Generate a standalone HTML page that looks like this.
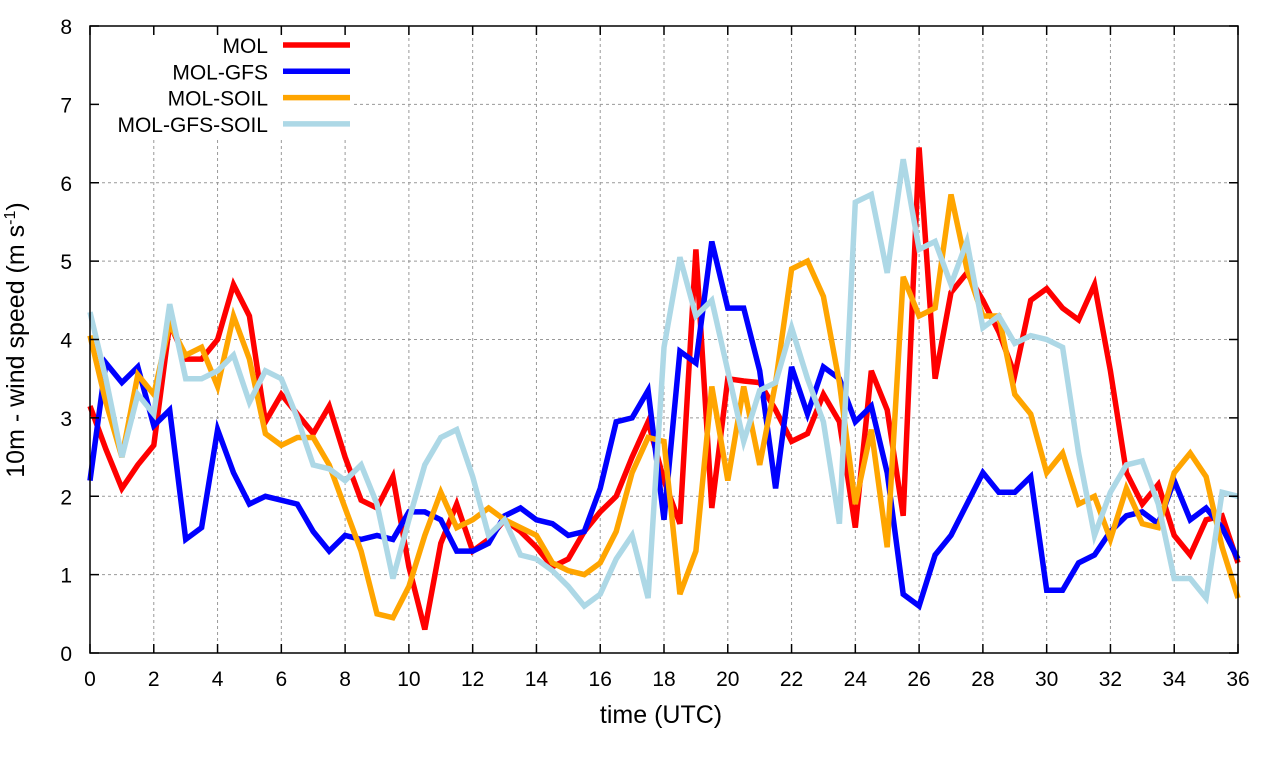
<!DOCTYPE html>
<html><head><meta charset="utf-8"><style>
body{margin:0;background:#fff;}
svg{display:block;font-family:"Liberation Sans",sans-serif;}
</style></head><body>
<svg id="chart" width="1280" height="760" viewBox="0 0 1280 760" xmlns="http://www.w3.org/2000/svg">
<g id="grid"></g>
<g id="series"></g>
<rect x="90" y="26" width="1148" height="627" fill="none" stroke="#000" stroke-width="1.5"/>
<g id="ticks"></g>
<text x="661" y="723" font-size="25" text-anchor="middle">time (UTC)</text>
<text transform="translate(24,340) rotate(-90)" font-size="25" text-anchor="middle">10m - wind speed  (m s<tspan font-size="16" dy="-9">-1</tspan><tspan dy="9">)</tspan></text>
<g id="legend"></g>
</svg>
<script>
const times = [];
for (let i = 0; i <= 72; i++) times.push(i * 0.5);
const molValues = [3.15,2.6,2.1,2.4,2.65,4.2,3.75,3.75,4.0,4.7,4.3,2.95,3.3,3.05,2.8,3.15,2.5,1.95,1.85,2.25,1.1,0.3,1.4,1.9,1.3,1.45,1.7,1.55,1.35,1.1,1.2,1.55,1.8,2.0,2.5,2.95,2.2,1.65,5.15,1.85,3.5,3.47,3.45,3.1,2.7,2.8,3.3,2.95,1.6,3.6,3.1,1.75,6.45,3.5,4.6,4.85,4.5,4.1,3.55,4.5,4.65,4.4,4.25,4.7,3.6,2.3,1.9,2.15,1.5,1.25,1.7,1.75,1.15];
const molGfsValues = [2.2,3.7,3.45,3.65,2.9,3.1,1.45,1.6,2.85,2.3,1.9,2.0,1.95,1.9,1.55,1.3,1.5,1.45,1.5,1.45,1.8,1.8,1.7,1.3,1.3,1.4,1.75,1.85,1.7,1.65,1.5,1.55,2.1,2.95,3.0,3.35,1.7,3.85,3.7,5.25,4.4,4.4,3.6,2.1,3.65,3.05,3.65,3.5,2.95,3.15,2.3,0.75,0.6,1.25,1.5,1.9,2.3,2.05,2.05,2.25,0.8,0.8,1.15,1.25,1.55,1.75,1.8,1.65,2.2,1.7,1.85,1.6,1.2];
const molSoilValues = [4.05,3.2,2.5,3.55,3.3,4.2,3.8,3.9,3.4,4.3,3.75,2.8,2.65,2.75,2.75,2.4,1.85,1.3,0.5,0.45,0.85,1.5,2.05,1.6,1.7,1.85,1.7,1.6,1.5,1.15,1.05,1.0,1.15,1.55,2.3,2.75,2.7,0.75,1.3,3.4,2.2,3.4,2.4,3.45,4.9,5.0,4.55,3.45,1.9,2.85,1.35,4.8,4.3,4.4,5.85,4.9,4.3,4.3,3.3,3.05,2.3,2.55,1.9,2.0,1.45,2.1,1.65,1.6,2.3,2.55,2.25,1.35,0.7];
const molGfsSoilValues = [4.35,3.5,2.5,3.3,3.05,4.45,3.5,3.5,3.6,3.8,3.2,3.6,3.5,3.0,2.4,2.35,2.2,2.4,1.9,0.95,1.7,2.4,2.75,2.85,2.25,1.5,1.7,1.25,1.2,1.05,0.85,0.6,0.75,1.2,1.5,0.7,3.9,5.05,4.3,4.5,3.6,2.7,3.35,3.45,4.15,3.5,2.95,1.65,5.75,5.85,4.85,6.3,5.15,5.25,4.7,5.25,4.15,4.3,3.95,4.05,4.0,3.9,2.55,1.5,2.05,2.4,2.45,1.9,0.95,0.95,0.7,2.05,2.0];
const seriesNames = ["MOL","MOL-GFS","MOL-SOIL","MOL-GFS-SOIL"];
const seriesColors = ["#ff0000","#0000ff","#ffa500","#add8e6"];
const xTicks = [0,2,4,6,8,10,12,14,16,18,20,22,24,26,28,30,32,34,36];
const yTicks = [0,1,2,3,4,5,6,7,8];

const X0=90,X1=1238,Y0=653,Y1=26;
const xs = t => X0 + (t/36)*(X1-X0);
const ys = v => Y0 - (v/8)*(Y0-Y1);
const NS="http://www.w3.org/2000/svg";
function mk(tag, attrs, parent){const e=document.createElementNS(NS,tag);for(const k in attrs)e.setAttribute(k,attrs[k]);parent.appendChild(e);return e;}
const grid=document.getElementById('grid'), ticks=document.getElementById('ticks');
xTicks.forEach(t=>{
  const x=xs(t);
  if(t>0&&t<36){const l=mk('line',{x1:x,x2:x,y1:Y1,y2:Y0,stroke:'#999','stroke-dasharray':'3,3','stroke-width':1},grid);
  
  }
  const tk=mk('line',{x1:x,x2:x,y1:Y0,y2:Y0-9,stroke:'#000','stroke-width':1.5},ticks);
  
  
  const tk2=mk('line',{x1:x,x2:x,y1:Y1,y2:Y1+9,stroke:'#000','stroke-width':1.5},ticks);
  
  
  const tx=mk('text',{x:x,y:686,'font-size':21,'text-anchor':'middle'},ticks);tx.textContent=t;
  
  
});
yTicks.forEach(v=>{
  const y=ys(v);
  if(v>0&&v<8){const l=mk('line',{x1:X0,x2:X1,y1:y,y2:y,stroke:'#999','stroke-dasharray':'3,3','stroke-width':1},grid);
  
  }
  const tk=mk('line',{x1:X0,x2:X0+9,y1:y,y2:y,stroke:'#000','stroke-width':1.5},ticks);
  
  
  const tk2=mk('line',{x1:X1,x2:X1-9,y1:y,y2:y,stroke:'#000','stroke-width':1.5},ticks);
  
  
  const tx=mk('text',{x:72,y:y+8,'font-size':21,'text-anchor':'end'},ticks);tx.textContent=v;
  
  
});
const lb=mk('rect',{x:92,y:28,width:262,height:110,fill:'#fff'},grid);


const allSeries=[molValues,molGfsValues,molSoilValues,molGfsSoilValues];
const sg=document.getElementById('series'), lg=document.getElementById('legend');
allSeries.forEach((vals,i)=>{
  const pts=vals.map((v,j)=>xs(times[j]).toFixed(1)+','+ys(v).toFixed(1)).join(' ');
  const pl=mk('polyline',{points:pts,fill:'none',stroke:seriesColors[i],'stroke-width':5.5,'stroke-linejoin':'miter'},sg);
  
  
  const ly=45+i*26.3;
  const ll=mk('line',{x1:283,x2:350,y1:ly,y2:ly,stroke:seriesColors[i],'stroke-width':5.5},lg);
  
  
  const lt=mk('text',{x:268,y:ly+8,'font-size':21,'text-anchor':'end'},lg);lt.textContent=seriesNames[i];
  
  
});
</script>
</body></html>
